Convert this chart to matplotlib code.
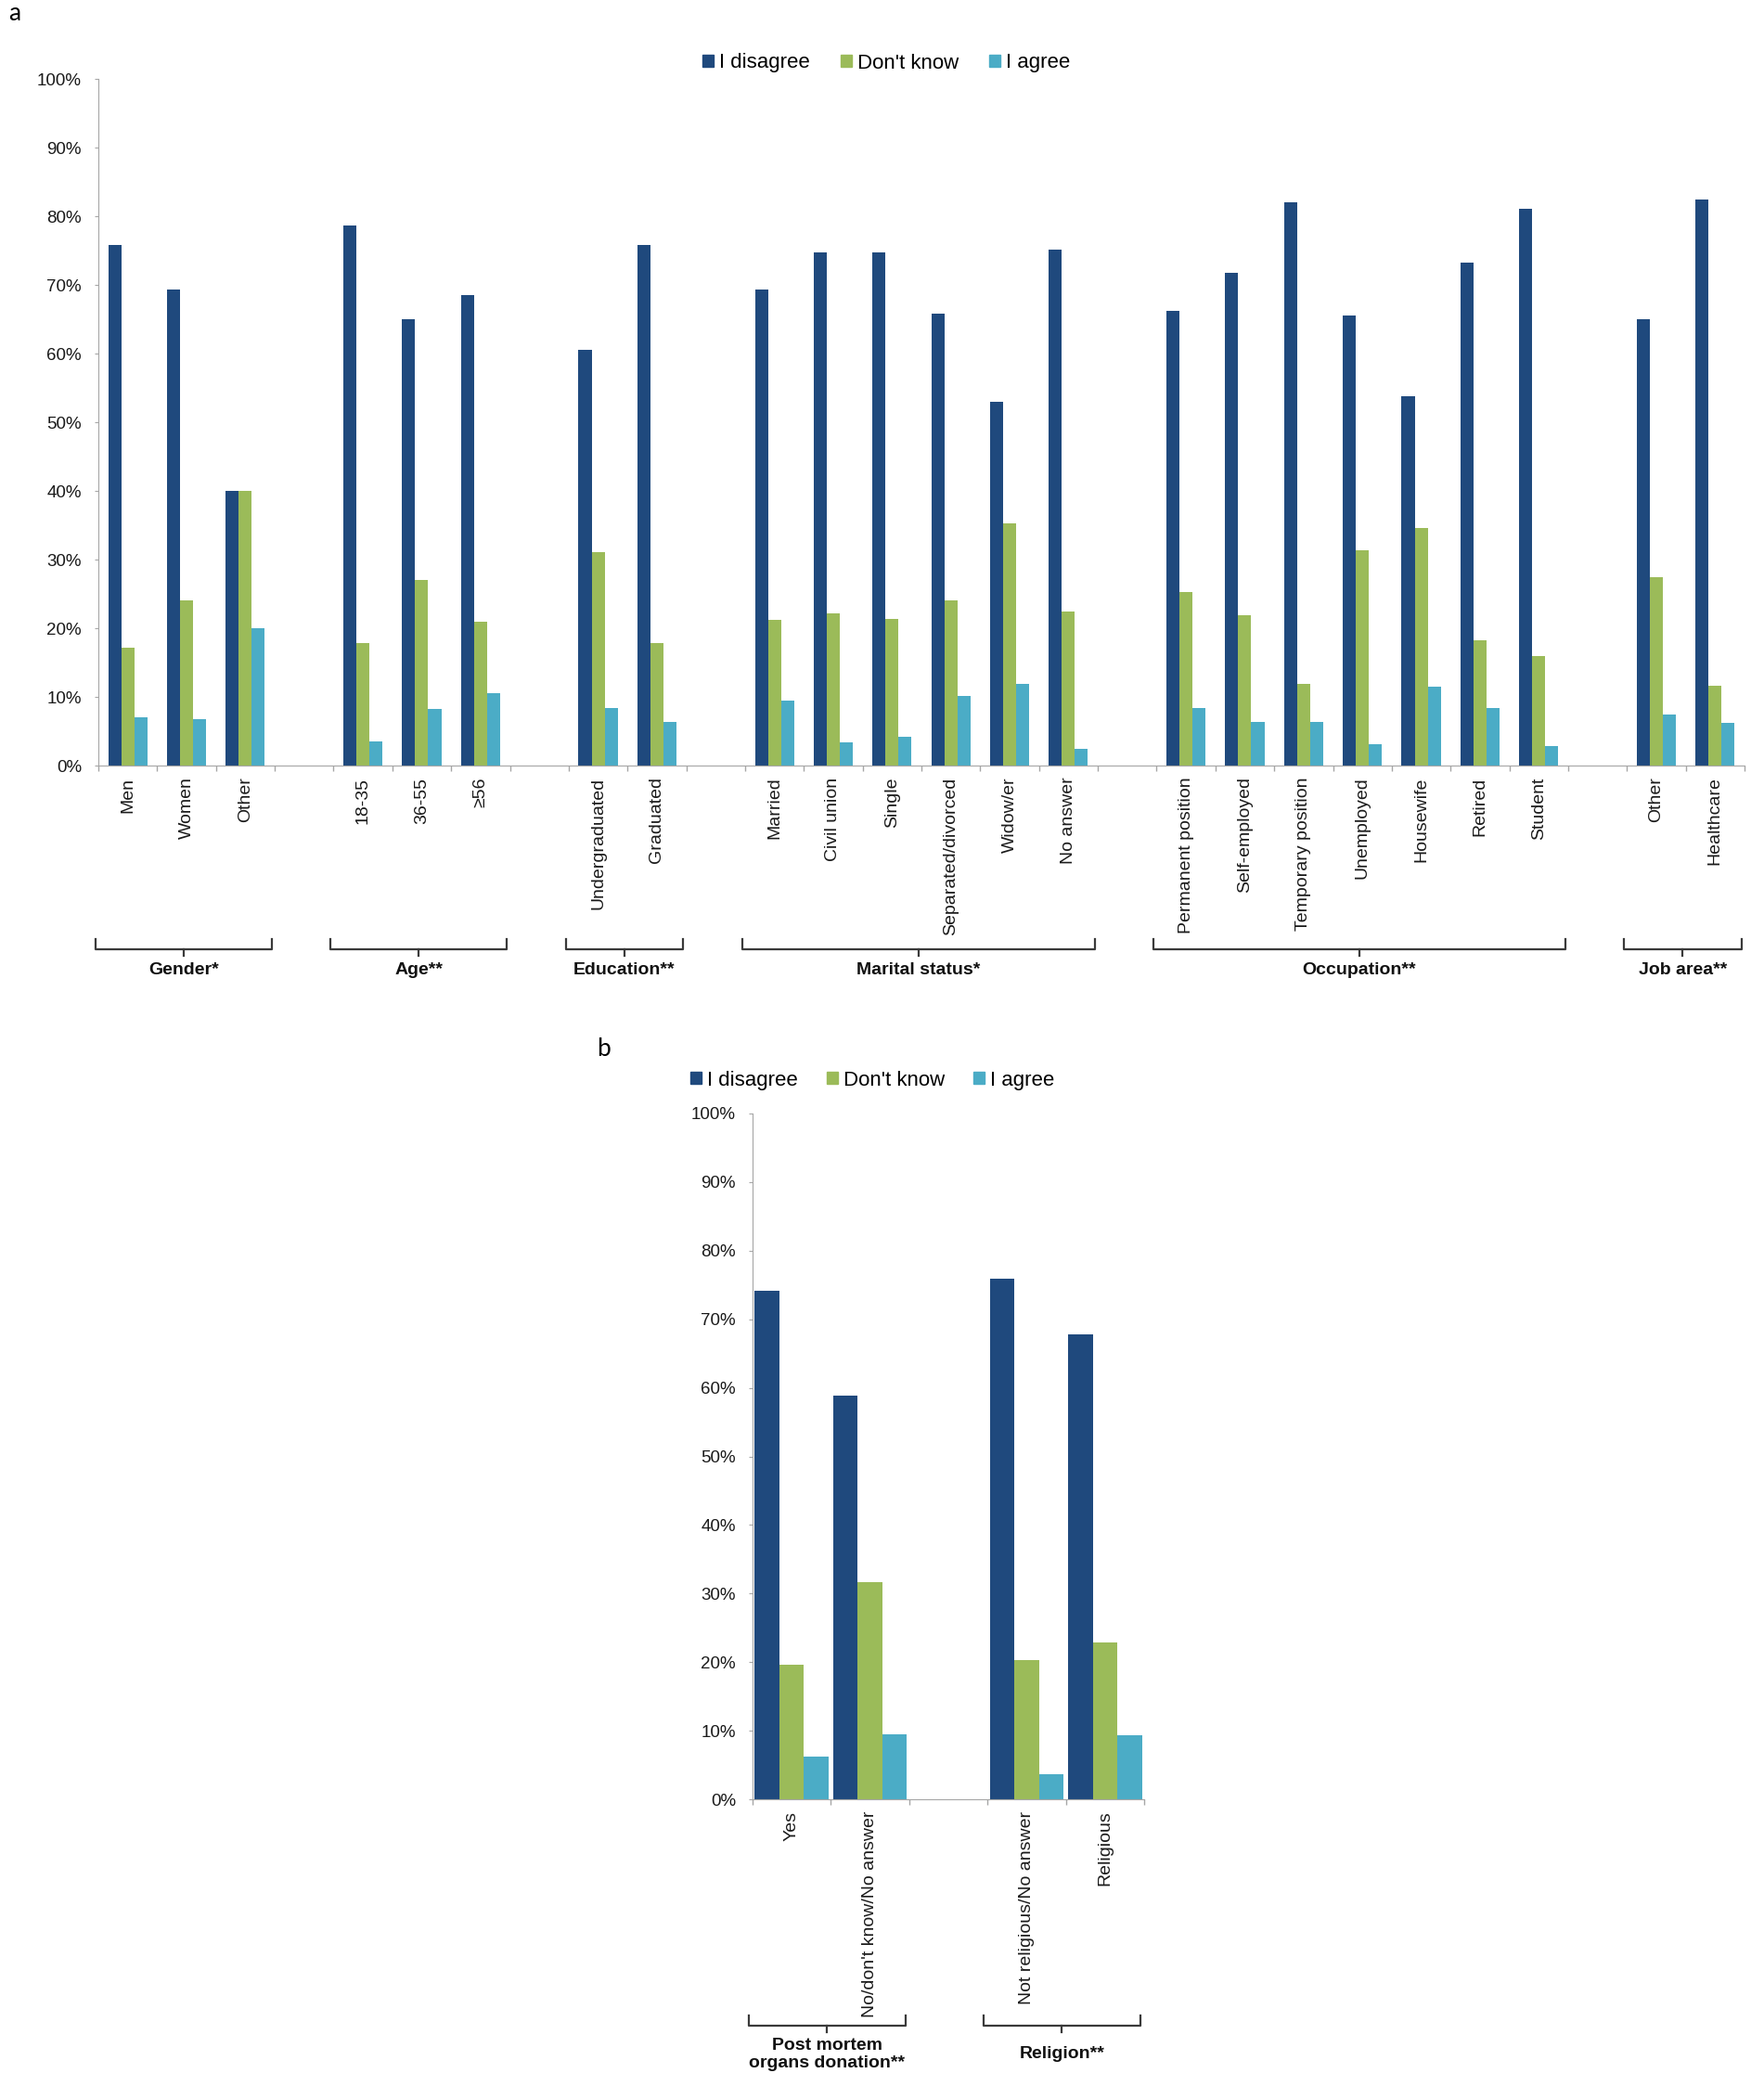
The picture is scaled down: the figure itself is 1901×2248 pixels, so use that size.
import numpy as np
import matplotlib
matplotlib.use("Agg")
import matplotlib.pyplot as plt
from matplotlib.patches import Patch
from matplotlib.transforms import blended_transform_factory

plt.rcParams['font.family'] = ['Liberation Sans', 'DejaVu Sans']

series = ["I disagree", "Don't know", "I agree"]
colors = ["#1F497D", "#9BBB59", "#4BACC6"]

# panel a
a_groups = ["Gender*", "Age**", "Education**", "Marital status*", "Occupation**", "Job area**"]
a_labels = [
    ["Men", "Women", "Other"],
    ["18-35", "36-55", "≥56"],
    ["Undergraduated", "Graduated"],
    ["Married", "Civil union", "Single", "Separated/divorced", "Widow/er", "No answer"],
    ["Permanent position", "Self-employed", "Temporary position", "Unemployed",
     "Housewife", "Retired", "Student"],
    ["Other", "Healthcare"],
]
a_disagree = [75.8, 69.3, 40.0, 78.7, 65.0, 68.5, 60.5, 75.8,
              69.3, 74.7, 74.7, 65.8, 53.0, 75.1,
              66.2, 71.7, 82.0, 65.6, 53.8, 73.3, 81.1, 65.0, 82.4]
a_dontknow = [17.2, 24.0, 40.0, 17.9, 27.0, 20.9, 31.1, 17.9,
              21.2, 22.1, 21.4, 24.1, 35.3, 22.5,
              25.3, 21.9, 11.9, 31.3, 34.6, 18.2, 16.0, 27.5, 11.6]
a_agree = [7.0, 6.7, 20.0, 3.5, 8.3, 10.5, 8.4, 6.3,
           9.5, 3.4, 4.2, 10.1, 11.9, 2.5,
           8.4, 6.4, 6.3, 3.1, 11.5, 8.4, 2.9, 7.5, 6.2]

# panel b
b_groups = ["Post mortem\norgans donation**", "Religion**"]
b_labels = [["Yes", "No/don't know/No answer"], ["Not religious/No answer", "Religious"]]
b_disagree = [74.2, 58.9, 75.9, 67.8]
b_dontknow = [19.6, 31.6, 20.3, 22.9]
b_agree = [6.2, 9.5, 3.7, 9.4]

W, H = 1901, 2248
fig = plt.figure(figsize=(W / 100, H / 100), dpi=100)

AX_GREY = "#a6a6a6"
TXT = "#1a1a1a"


def layout(groups):
    centers, spans, pos = [], [], 0
    for gi, labs in enumerate(groups):
        start = pos
        for _ in labs:
            centers.append(pos + 0.5)
            pos += 1
        spans.append((start, pos))
        if gi < len(groups) - 1:
            pos += 1
    return np.array(centers), spans, pos


def panel(ax, groups, names, vals, width, ax_h_px, br_px, lab_px):
    centers, spans, total = layout(groups)
    flat = [l for g in groups for l in g]
    for k, (v, c) in enumerate(zip(vals, colors)):
        ax.bar(centers + (k - 1) * width, v, width, color=c, linewidth=0)
    ax.set_xlim(0, total)
    ax.set_ylim(0, 100)
    ax.set_yticks(np.arange(0, 101, 10))
    ax.set_yticklabels([f"{t}%" for t in range(0, 101, 10)])
    ax.set_xticks(np.arange(0, total + 1))
    ax.set_xticklabels([])
    ax.set_xticks(centers, minor=True)
    ax.set_xticklabels(flat, minor=True, rotation=90, fontsize=14, color=TXT)
    ax.tick_params(axis='x', which='major', length=4, color=AX_GREY, width=1)
    ax.tick_params(axis='x', which='minor', length=0, pad=9)
    ax.tick_params(axis='y', length=3, color=AX_GREY, labelsize=13.5, pad=10,
                   labelcolor=TXT)
    for s in ["top", "right"]:
        ax.spines[s].set_visible(False)
    for s in ["left", "bottom"]:
        ax.spines[s].set_color(AX_GREY)

    # group brackets under the tick labels
    tr = blended_transform_factory(ax.transData, ax.transAxes)
    top, line, tick = [-p / ax_h_px for p in br_px]
    for (s0, s1), name in zip(spans, names):
        x0, x1 = s0 - 0.05, s1 - 0.05
        xc = (x0 + x1) / 2
        ax.plot([x0, x0, x1, x1], [top, line, line, top], color="#3a3a3a",
                lw=1.6, transform=tr, clip_on=False, solid_joinstyle='round')
        ax.plot([xc, xc], [line, tick], color="#3a3a3a", lw=1.6,
                transform=tr, clip_on=False)
        ax.text(xc, -lab_px / ax_h_px, name, transform=tr, ha='center',
                va='center', fontsize=14, fontweight='bold', color="#111111",
                linespacing=1.15)


# panel a axes: x 106..1880, y 85..825
axa = fig.add_axes([106 / W, 1 - 825 / H, 1774 / W, 740 / H])
panel(axa, a_labels, a_groups, [a_disagree, a_dontknow, a_agree], 0.222,
      740, (187, 198, 205), 221)

# panel b axes: x 811..1233, y 1200..1939
axb = fig.add_axes([811 / W, 1 - 1939 / H, 422 / W, 739 / H])
panel(axb, b_labels, b_groups, [b_disagree, b_dontknow, b_agree], 0.314,
      739, (233, 244, 251), 275)

handles = [Patch(color=c, label=s) for c, s in zip(colors, series)]
fig.legend(handles=handles, loc='center', bbox_to_anchor=(955 / W, 1 - 68 / H),
           ncol=3, frameon=False, fontsize=16, handlelength=0.55,
           handleheight=0.55, handletextpad=0.25, columnspacing=1.5)
fig.legend(handles=handles, loc='center', bbox_to_anchor=(940 / W, 1 - 1164 / H),
           ncol=3, frameon=False, fontsize=16, handlelength=0.55,
           handleheight=0.55, handletextpad=0.25, columnspacing=1.4)

fig.text(16 / W, 1 - 15 / H, "a", ha='center', va='center', fontsize=19,
         family=['Lato', 'DejaVu Sans'])
fig.text(650 / W, 1 - 1131 / H, "b", ha='center', va='center', fontsize=19,
         family=['Lato', 'DejaVu Sans'])

fig.savefig("out.png", dpi=100)
